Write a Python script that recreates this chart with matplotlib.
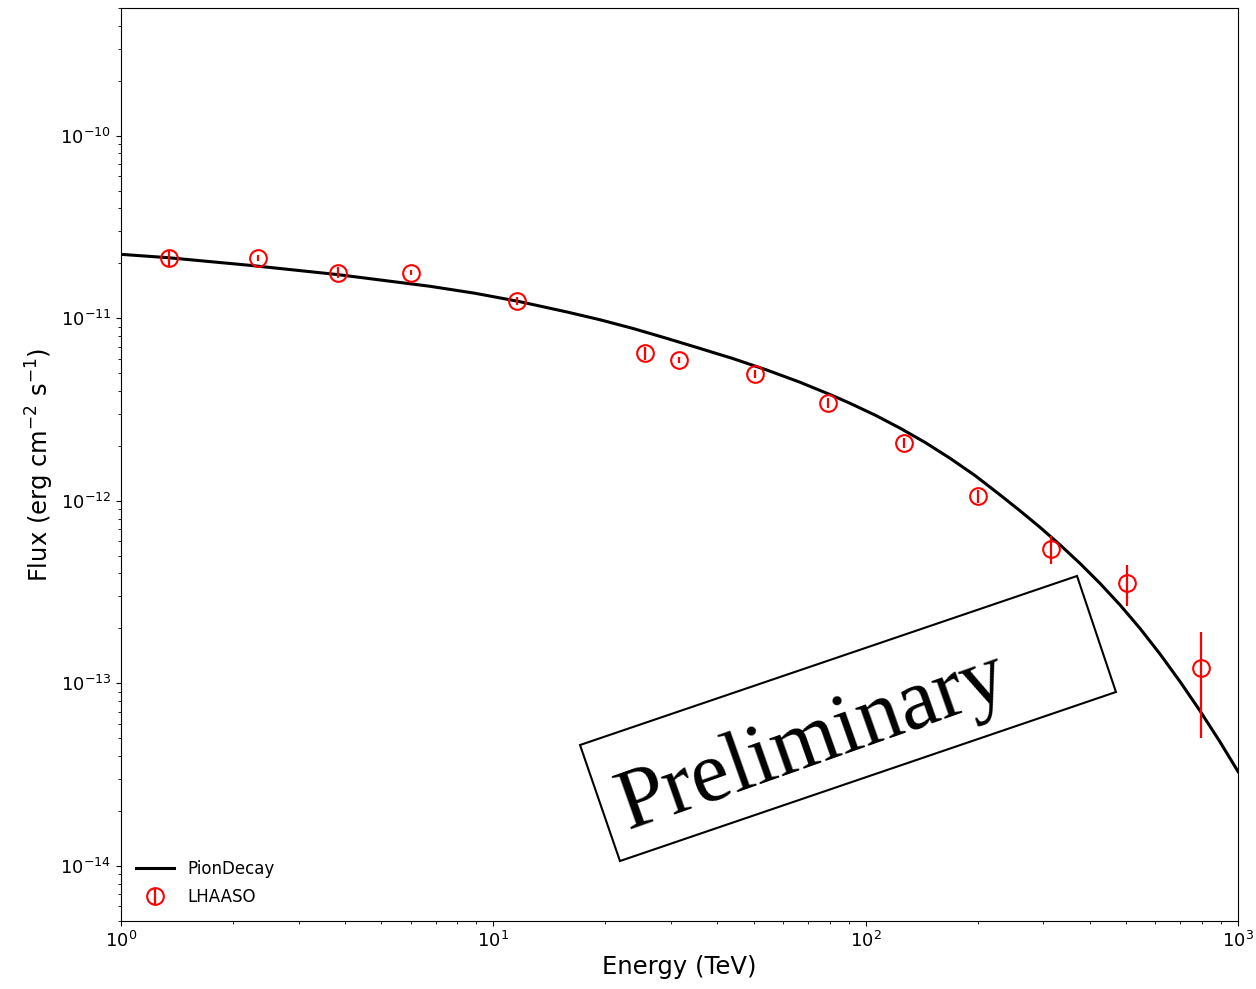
import numpy as np
import matplotlib
matplotlib.use('Agg')
import matplotlib.pyplot as plt
from matplotlib.patches import Polygon

# LHAASO spectral points (TeV, erg cm^-2 s^-1)
energy = [1.35, 2.33, 3.83, 6.01, 11.6, 25.5, 31.5, 50.5, 79.3, 126.8, 200.0, 315.0, 504.0, 796.0]
flux = [2.13e-11, 2.13e-11, 1.78e-11, 1.78e-11, 1.24e-11, 6.44e-12, 5.89e-12,
        4.94e-12, 3.44e-12, 2.07e-12, 1.06e-12, 5.47e-13, 3.56e-13, 1.21e-13]
flux_err = [1.9e-12, 7.9e-13, 1.2e-12, 6.5e-13, 6.3e-13, 5.6e-13, 2.2e-13,
            2.5e-13, 2.2e-13, 1.3e-13, 9.3e-14, 9.6e-14, 9.1e-14, 7.1e-14]

# pion decay model curve
model_e = [1.0, 1.337, 2.221, 3.827, 6.759, 8.929, 11.65, 15.77, 19.34, 23.72,
           29.09, 35.91, 44.03, 54.34, 66.63, 81.72, 90.77, 105.9, 123.7, 144.3,
           168.5, 196.7, 229.5, 259.7, 293.9, 332.6, 376.4, 425.9, 482.0, 545.5,
           617.3, 698.6, 790.6, 894.7, 1000.0]
model_f = [2.238e-11, 2.146e-11, 1.948e-11, 1.733e-11, 1.496e-11, 1.370e-11,
           1.238e-11, 1.082e-11, 9.81e-12, 8.79e-12, 7.78e-12, 6.83e-12, 6.01e-12,
           5.20e-12, 4.46e-12, 3.76e-12, 3.42e-12, 2.95e-12, 2.50e-12, 2.09e-12,
           1.71e-12, 1.375e-12, 1.078e-12, 8.82e-13, 7.16e-13, 5.74e-13, 4.54e-13,
           3.53e-13, 2.69e-13, 2.00e-13, 1.448e-13, 1.023e-13, 7.07e-14, 4.78e-14,
           3.29e-14]

fig = plt.figure(figsize=(12.56, 9.89), dpi=100)
ax = fig.add_axes([0.0963, 0.0688, 0.8894, 0.9231])

ax.plot(model_e, model_f, color='black', lw=2.2, label='PionDecay')
ax.errorbar(energy, flux, yerr=flux_err, fmt='o', mfc='none', mec='red',
            ms=12, mew=1.5, ecolor='red', elinewidth=1.6, capsize=0,
            label='LHAASO')

ax.set_xscale('log')
ax.set_yscale('log')
ax.set_xlim(1, 1000)
ax.set_ylim(5e-15, 5e-10)
ax.set_xlabel('Energy (TeV)', fontsize=17.5, labelpad=3)
ax.set_ylabel(r'Flux (erg cm$^{-2}$ s$^{-1}$)', fontsize=17.5, labelpad=3)
ax.tick_params(axis='both', which='major', labelsize=13)

ax.legend(loc='lower left', bbox_to_anchor=(0, 0), frameon=False,
          fontsize=12, labelspacing=0.6, handlelength=2.3, handletextpad=0.8)

# "Preliminary" stamp
corners = [(0.4618, 0.2467), (0.8575, 0.4176), (0.8885, 0.3003), (0.4936, 0.1294)]
fig.patches.append(Polygon(corners, closed=True, fill=False, edgecolor='black',
                           lw=1.5, transform=fig.transFigure))
fig.text(0.647, 0.249, 'Preliminary', family='Liberation Serif', fontsize=62,
         rotation=19.5, rotation_mode='anchor', ha='center', va='center')

fig.savefig('out.png', dpi=100)
